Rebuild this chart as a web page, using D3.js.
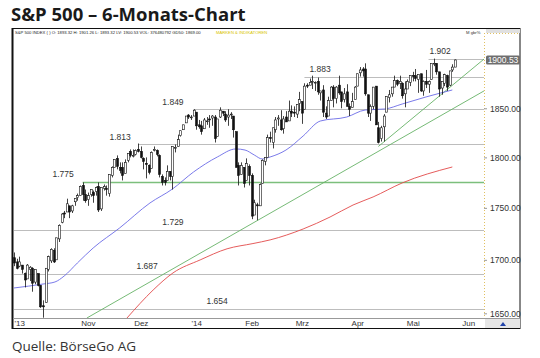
<!DOCTYPE html>
<html><head><meta charset="utf-8">
<script src="https://cdn.jsdelivr.net/npm/d3@7"></script>
<style>body{margin:0;background:#fff}svg{display:block}</style></head>
<body><svg id="c" width="540" height="358"></svg>
<script>
// Daily OHLC, 24 Sep 2013 (index 0) .. 23 May 2014 (index 167)
const opens=[1702,1698,1694,1695,1687,1682,1691,1692,1679,1687,1676,1657,1660,1691,1699,1709,1700,1720,1736,1745,1746,1752,1747,1756,1760,1762,1772,1763,
1758,1763,1765,1766,1771,1749,1769,1769,1764,1782,1790,1799,1790,1790,1784,1797,1806,1802,1803,1808,
1806,1799,1794,1792,1789,1807,1807,1802,1781,1777,1777,1786,1781,1810,1811,1822,1828,1835,1843,1841,1842,
1846,1833,1832,1829,1837,1839,1840,1841,1821,1841,1847,1844,1841,1844,1842,1826,1792,1783,1790,1777,1791,
1782,1743,1753,1752,1774,1796,1800,1820,1815,1828,1839,1838,1829,1841,1837,1847,1846,1844,1855,
1857,1849,1874,1874,1878,1877,1878,1866,1869,1845,1842,1858,1872,1860,1874,1867,1859,1867,1852,1851,1859,
1873,1887,1891,1891,1864,1845,1852,1873,1830,1819,1831,1846,1861,1865,1872,1879,1876,1876,1865,1870,1877,
1884,1884,1880,1886,1868,1878,1875,1880,1897,1897,1888,1871,1876,1884,1874,1890,1893];
const highs=[1707,1701,1703,1695,1688,1696,1694,1693,1691,1687,1676,1662,1692,1704,1711,1711,1721,1734,1745,1747,1759,1752,1753,1759,1764,1772,1775,1768,
1765,1768,1767,1771,1775,1770,1773,1772,1783,1791,1798,1802,1795,1795,1798,1804,1808,1808,1808,1814,
1811,1800,1800,1793,1806,1811,1808,1803,1783,1780,1792,1786,1811,1813,1823,1827,1833,1842,1844,1843,1849,
1846,1838,1837,1840,1841,1843,1843,1843,1839,1851,1847,1847,1849,1846,1842,1826,1795,1795,1790,1799,1793,
1784,1758,1755,1774,1798,1800,1823,1826,1830,1841,1843,1848,1842,1847,1858,1853,1852,1854,1867,
1857,1876,1876,1881,1884,1878,1882,1868,1874,1852,1862,1873,1874,1873,1884,1867,1871,1875,1855,1866,1873,
1886,1893,1893,1897,1864,1854,1872,1873,1836,1832,1844,1862,1869,1872,1884,1880,1884,1877,1878,1880,1884,
1888,1891,1885,1886,1879,1890,1879,1897,1902,1897,1888,1878,1886,1885,1889,1896,1901];
const lows=[1694,1691,1693,1687,1674,1682,1680,1670,1677,1675,1655,1646,1660,1689,1697,1697,1700,1717,1735,1740,1746,1740,1745,1752,1757,1762,1757,1755,
1752,1761,1755,1762,1746,1747,1767,1762,1761,1780,1790,1788,1784,1777,1784,1795,1800,1800,1802,1805,
1799,1788,1779,1783,1789,1806,1801,1780,1772,1772,1777,1777,1768,1805,1811,1821,1828,1835,1839,1838,1842,
1828,1829,1823,1829,1833,1830,1832,1815,1821,1840,1842,1836,1832,1839,1820,1790,1772,1783,1770,1777,1772,
1739,1743,1738,1752,1774,1792,1800,1815,1809,1825,1832,1827,1824,1836,1837,1841,1841,1840,1847,
1834,1849,1871,1874,1870,1868,1864,1858,1841,1839,1842,1858,1851,1855,1864,1850,1856,1852,1842,1851,1859,
1873,1883,1883,1863,1841,1837,1849,1833,1814,1816,1816,1846,1856,1862,1872,1873,1870,1860,1851,1870,1873,
1878,1878,1866,1867,1863,1871,1866,1880,1894,1885,1862,1864,1873,1868,1873,1888,1893];
const closes=[1697,1692,1698,1691,1681,1695,1693,1678,1691,1676,1656,1656,1692,1703,1710,1698,1721,1733,1744,1744,1754,1746,1752,1759,1762,1771,1763,1757,
1762,1768,1762,1770,1748,1770,1771,1768,1783,1790,1798,1791,1787,1782,1795,1804,1802,1802,1807,1806,
1800,1796,1793,1785,1805,1808,1803,1783,1775,1775,1786,1781,1811,1810,1818,1827,1833,1842,1841,1841,1848,
1832,1831,1826,1838,1837,1838,1842,1819,1839,1848,1845,1838,1843,1844,1828,1790,1782,1792,1774,1794,1782,
1742,1755,1752,1773,1797,1800,1820,1819,1830,1838,1840,1828,1839,1836,1847,1845,1845,1854,1859,
1845,1873,1873,1877,1878,1877,1867,1868,1846,1841,1858,1872,1860,1872,1866,1857,1865,1852,1849,1857,1872,
1886,1890,1889,1865,1845,1852,1872,1833,1815,1830,1842,1862,1864,1872,1879,1875,1878,1863,1870,1878,1884,
1883,1881,1885,1868,1878,1875,1878,1897,1897,1888,1870,1878,1885,1872,1889,1893,1900.53];

// moving averages (index, value)
const ma50Idx=[0,11,15.5,19,24,30,40,51.5,60,68,77,84,87.5,91,94,97,103,109.5,116,126,133,140.5,147,156,166];
const ma50Val=[1673.5,1677.2,1679.1,1684.7,1697,1711.3,1730.5,1754.8,1768.5,1785.4,1800.4,1808.5,1807.4,1802.4,1798.4,1800.4,1807.4,1821.6,1836.9,1841,1848.2,1849.3,1854.4,1861.7,1869];
const ma200Idx=[42.8,52.7,60.2,70.5,80.7,90.5,97,109.5,119.7,128.4,136,147,166];
const ma200Val=[1645.7,1671.6,1687.6,1699.9,1710.5,1715.5,1719,1729.5,1741.1,1752.8,1760.7,1774.5,1790.4];

// marked levels: value, line start index, label index
const levelVals=[1902,1883,1849,1813,1729,1687,1654];
const levelStart=[157,110,68,47,0,0,0];
const levelLabelAt=[161.4,115.9,60.2,40.2,60.2,50.4,76.9];
const levelText=["1.902","1.883","1.849","1.813","1.729","1.687","1.654"];
const supportVal=1775, supportStart=26, supportLabelAt=18.6, supportText="1.775";

// trend lines (index, value)
const trendLong=[[27.6,1645.7],[178,1868]];
const trendShort=[[138,1811],[178,1901.5]];

const monthIdx=[2,28,48,69,90,109,130,151,172];
const monthLabels=["'13","Nov","Dez","'14","Feb","Mrz","Apr","Mai","Jun"];
const yTicks=[1650,1700,1750,1800,1850];
const lastPrice=1900.53;

const svg=d3.select("#c");
const font="Arial, 'Liberation Sans', sans-serif";
const L=13, R=484, T=33, B=318;
const x=d3.scaleLinear().domain([0,178]).range([14,484]);
const y=d3.scaleLog().domain([1645.7,1932.6]).range([318,30]);

// title & source
svg.append("text").attr("x",11).attr("y",21).attr("font-family","'Open Sans', sans-serif")
  .attr("font-weight",700).attr("font-size",18.5).attr("fill","#1a1a1a").text("S&P 500 – 6-Monats-Chart");
svg.append("text").attr("x",12).attr("y",351).attr("font-family","'Open Sans', sans-serif")
  .attr("font-size",13.5).attr("fill","#333").text("Quelle: BörseGo AG");

// frame
svg.append("rect").attr("x",12.5).attr("y",28.5).attr("width",507.5).attr("height",300).attr("fill","#fff").attr("stroke","#111").attr("stroke-width",1);
svg.append("line").attr("x1",12.5).attr("x2",12.5).attr("y1",28).attr("y2",329).attr("stroke","#111").attr("stroke-width",2);
svg.append("line").attr("x1",13).attr("x2",520).attr("y1",318.5).attr("y2",318.5).attr("stroke","#999");
svg.append("rect").attr("x",485).attr("y",319).attr("width",35).attr("height",9).attr("fill","#e6e6e6");
svg.append("path").attr("d","M500,326 L503,322 L506,326 Z").attr("fill","#2244aa");
svg.append("rect").attr("x",486).attr("y",29).attr("width",34).attr("height",4).attr("fill","#e0e0e0");

// header text
svg.append("text").attr("x",15).attr("y",33.5).attr("font-family",font).attr("font-size",4.2).attr("fill","#222")
  .text("S&P 500 INDEX (  )  O: 1893.32 H: 1901.26 L: 1893.32 LV: 1900.53  VOL: 376480792 GD50: 1869.00");
svg.append("text").attr("x",216).attr("y",33.5).attr("font-family",font).attr("font-size",4.2).attr("fill","#d8c400")
  .text("MARKEN & INDIKATOREN");
svg.append("text").attr("x",466).attr("y",33.5).attr("font-family",font).attr("font-size",4.2).attr("fill","#333").text("M gbr%");

svg.append("defs").append("clipPath").attr("id","pc").append("rect")
  .attr("x",L).attr("y",T).attr("width",R-L).attr("height",B-T);
const g=svg.append("g").attr("clip-path","url(#pc)");

// level lines
levelVals.forEach((v,i)=>{
  g.append("line").attr("x1",x(levelStart[i])).attr("x2",R).attr("y1",Math.round(y(v))+0.5).attr("y2",Math.round(y(v))+0.5)
   .attr("stroke","#bdbdbd").attr("stroke-width",1);
  svg.append("text").attr("x",x(levelLabelAt[i])).attr("y",y(v)-4.5).attr("text-anchor","middle")
   .attr("font-family",font).attr("font-size",8.5).attr("fill","#333").text(levelText[i]);
});
g.append("line").attr("x1",x(supportStart)).attr("x2",R).attr("y1",y(supportVal)).attr("y2",y(supportVal))
  .attr("stroke","#7cbf7c").attr("stroke-width",1.6);
svg.append("text").attr("x",x(supportLabelAt)).attr("y",y(supportVal)-5.5).attr("text-anchor","middle")
  .attr("font-family",font).attr("font-size",8.5).attr("fill","#333").text(supportText);

// trend lines
[trendLong,trendShort].forEach(t=>{
  g.append("line").attr("x1",x(t[0][0])).attr("y1",y(t[0][1])).attr("x2",x(t[1][0])).attr("y2",y(t[1][1]))
   .attr("stroke","#66b266").attr("stroke-width",0.9);
});

// moving averages
const line=d3.line().x(d=>x(d[0])).y(d=>y(d[1])).curve(d3.curveMonotoneX);
g.append("path").datum(ma50Idx.map((d,i)=>[d,ma50Val[i]])).attr("d",line).attr("fill","none").attr("stroke","#6b6be6").attr("stroke-width",0.9);
g.append("path").datum(ma200Idx.map((d,i)=>[d,ma200Val[i]])).attr("d",line).attr("fill","none").attr("stroke","#e24a4a").attr("stroke-width",0.9);

// candles
const cg=g.append("g");
closes.forEach((c,i)=>{
  const o=opens[i], cx=Math.round(x(i))+0.5;
  cg.append("line").attr("x1",cx).attr("x2",cx).attr("y1",y(highs[i])).attr("y2",y(lows[i])).attr("stroke","#111").attr("stroke-width",0.8);
  const top=y(Math.max(o,c)), bot=y(Math.min(o,c));
  cg.append("rect").attr("x",cx-1).attr("y",top).attr("width",2).attr("height",Math.max(0.8,bot-top))
    .attr("fill",c>=o?"#fff":"#111").attr("stroke","#111").attr("stroke-width",0.6);
});

// right axis
svg.append("line").attr("x1",R+0.5).attr("x2",R+0.5).attr("y1",33).attr("y2",318).attr("stroke","#e0c060").attr("stroke-dasharray","1,2");
svg.append("line").attr("x1",R).attr("x2",520).attr("y1",33.5).attr("y2",33.5).attr("stroke","#e0c060").attr("stroke-dasharray","1,2");
const ya=svg.append("g").attr("transform",`translate(${R},0)`)
  .call(d3.axisRight(y).tickValues(yTicks).tickFormat(d3.format(".2f")).tickSize(3).tickPadding(3));
ya.select(".domain").remove();
ya.selectAll("line").attr("stroke","#999");
ya.selectAll("text").attr("font-family",font).attr("font-size",8.5).attr("fill","#333");

// last price box
svg.append("rect").attr("x",486).attr("y",y(lastPrice)-4.5).attr("width",34).attr("height",9).attr("rx",1.5).attr("fill","#6e6e6e");
svg.append("text").attr("x",503).attr("y",y(lastPrice)+3).attr("text-anchor","middle").attr("font-family",font)
  .attr("font-size",8.5).attr("fill","#fff").text(d3.format(".2f")(lastPrice));

// month axis
const xa=svg.append("g").attr("transform",`translate(0,${B})`)
  .call(d3.axisBottom(x).tickValues(monthIdx).tickFormat((d,i)=>monthLabels[i]).tickSize(0).tickPadding(2.5));
xa.select(".domain").remove();
xa.selectAll("text").attr("font-family",font).attr("font-size",8).attr("fill","#333");
</script></body></html>
